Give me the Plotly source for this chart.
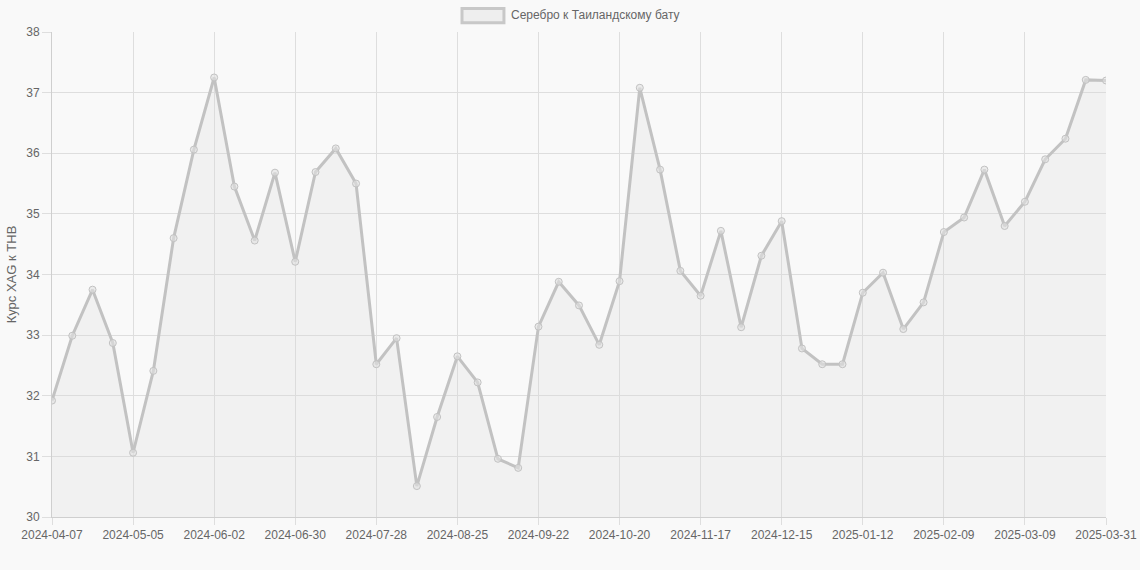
import datetime as dt
import plotly.graph_objects as go

# weekly silver price in THB, last point is a daily quote
start = dt.date(2024, 4, 7)
dates = [(start + dt.timedelta(weeks=i)).isoformat() for i in range(52)] + ["2025-03-31"]

rates = [31.92, 32.99, 33.75, 32.87, 31.06, 32.41, 34.60, 36.06, 37.25, 35.45,
         34.56, 35.68, 34.21, 35.69, 36.08, 35.50, 32.52, 32.95, 30.51, 31.65,
         32.65, 32.22, 30.96, 30.81, 33.14, 33.88, 33.49, 32.84, 33.89, 37.08,
         35.73, 34.06, 33.65, 34.72, 33.13, 34.31, 34.88, 32.78, 32.52, 32.52,
         33.70, 34.03, 33.10, 33.54, 34.70, 34.94, 35.73, 34.80, 35.20, 35.90,
         36.24, 37.21, 37.20]

tick_labels = dates[0:52:4] + [dates[-1]]

series_name = "Серебро к Таиландскому бату"
y_title = "Курс XAG к THB"

bg = "#f9f9f9"
grid = "#dedede"
txt = "#666666"
line_col = "#c2c2c2"

fig = go.Figure()
fig.add_trace(go.Scatter(
    x=dates, y=rates, mode="lines+markers", name=series_name,
    fill="tozeroy", fillcolor="rgba(215,215,215,0.22)",
    line=dict(color=line_col, width=3),
    marker=dict(size=7, color="rgba(225,225,225,0.6)", line=dict(color=line_col, width=1)),
    showlegend=False,
))

fig.update_layout(
    width=1140, height=570,
    paper_bgcolor=bg, plot_bgcolor=bg,
    margin=dict(l=52, r=34, t=32, b=53),
    font=dict(family="Liberation Sans, Arial, sans-serif", size=12, color=txt),
    xaxis=dict(
        type="category", range=[0, len(dates) - 1],
        tickmode="array", tickvals=tick_labels, ticktext=tick_labels,
        showgrid=True, gridcolor=grid, gridwidth=1,
        ticks="outside", ticklen=7, tickcolor=grid,
        showline=True, linecolor="#cfcfcf", linewidth=1, mirror=False,
        tickangle=0, zeroline=False, automargin=False,
    ),
    yaxis=dict(
        range=[30, 38], dtick=1,
        showgrid=True, gridcolor=grid, gridwidth=1,
        ticks="outside", ticklen=9, tickcolor=grid,
        showline=True, linecolor="#cfcfcf", linewidth=1,
        zeroline=False, automargin=False,
        title=dict(text=y_title, font=dict(size=13, color=txt), standoff=6),
    ),
)

# chart.js style legend box on top
fig.add_shape(type="rect", xref="paper", yref="paper",
              x0=0.389, x1=0.4288, y0=1.0192, y1=1.0487,
              line=dict(color="#c8c8c8", width=3), fillcolor="#eeeeee")
fig.add_annotation(text=series_name, xref="paper", yref="paper",
                   x=0.4336, y=1.0347, xanchor="left", yanchor="middle",
                   showarrow=False, font=dict(size=12, color=txt))

# drop the default body margin so the figure fills the window without scrollbars
fig.write_html("out.html", config={"displayModeBar": False}, post_script=(
    "document.body.style.margin='0';"
    "document.body.style.overflow='hidden';"
    "document.body.style.background='#f9f9f9';"))
